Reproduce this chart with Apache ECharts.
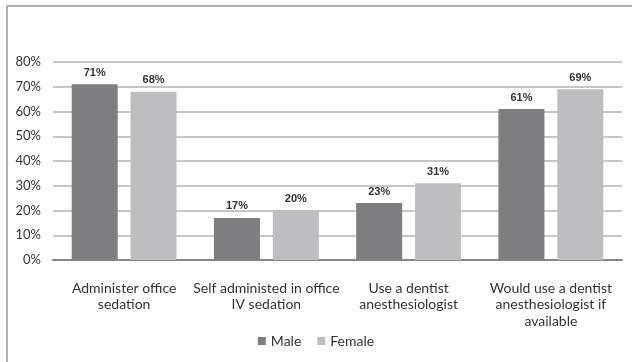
<!DOCTYPE html>
<html>
<head>
<meta charset="utf-8">
<script src="https://cdn.jsdelivr.net/npm/echarts@6/dist/echarts.min.js"></script>
<style>html,body{margin:0;padding:0;background:#fff;}#c{width:632px;height:362px;}</style>
</head>
<body>
<div id="c"></div>
<script>
var categories = ['Administer office\nsedation', 'Self administed in office\nIV sedation', 'Use a dentist\nanesthesiologist', 'Would use a dentist\nanesthesiologist if\navailable'];
var male = [71, 17, 23, 61];
var female = [68, 20, 31, 69];
var yTicks = [0, 10, 20, 30, 40, 50, 60, 70, 80];

var chart = echarts.init(document.getElementById('c'));
var labelStyle = {show: true, position: 'top', formatter: '{c}%', fontFamily: 'Liberation Sans', fontWeight: 'bold', fontSize: 11, color: '#333', distance: 6};
chart.setOption({
  animation: false,
  graphic: [{type: 'polyline', shape: {points: [[7, 362], [7, 6], [632, 6]]}, style: {stroke: '#b0b0b0', lineWidth: 2, fill: null}}],
  grid: {left: 53, right: 10, top: 62, bottom: 102},
  legend: {
    bottom: 9, left: 'center', itemWidth: 8, itemHeight: 8, itemGap: 16,
    icon: 'rect',
    textStyle: {fontFamily: 'Lato', fontSize: 14, color: '#333'},
    data: ['Male', 'Female']
  },
  xAxis: {
    type: 'category', data: categories,
    axisLine: {lineStyle: {color: '#868686', width: 2}},
    axisTick: {show: false},
    axisLabel: {fontFamily: 'Lato', fontSize: 14, color: '#333', lineHeight: 16.5, margin: 20, interval: 0}
  },
  yAxis: {
    type: 'value', min: yTicks[0], max: yTicks[yTicks.length - 1], interval: 10,
    axisLine: {show: false}, axisTick: {show: false},
    axisLabel: {formatter: '{value}%', fontFamily: 'Lato', fontSize: 13, color: '#333', margin: 12},
    splitLine: {lineStyle: {color: '#c6c6c6', width: 2}}
  },
  series: [
    {name: 'Male', type: 'bar', data: male, barWidth: 46, barGap: '28%', itemStyle: {color: '#7e7e80'}, label: labelStyle},
    {name: 'Female', type: 'bar', data: female, barWidth: 46, itemStyle: {color: '#bebec0'}, label: labelStyle}
  ]
});
</script>
</body>
</html>
